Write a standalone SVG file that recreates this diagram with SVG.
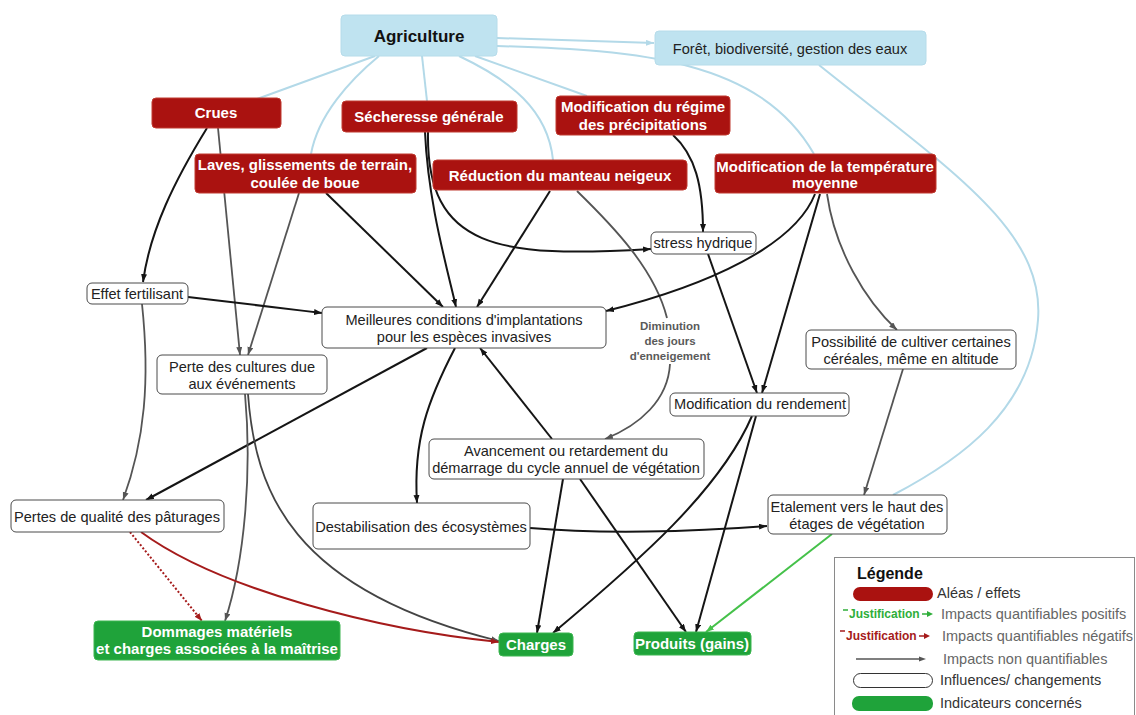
<svg xmlns="http://www.w3.org/2000/svg" width="1136" height="715" viewBox="0 0 1136 715">
  <defs>
    <style>
      text { font-family: "Liberation Sans", Arial, sans-serif; }
      .blue { fill: #bfe3f0; stroke: #b6dcea; stroke-width: 1; }
      .red { fill: #aa1210; stroke: #c03a30; stroke-width: 1; }
      .green { fill: #1fa33a; stroke: #3cb650; stroke-width: 1; }
      .box { fill: #ffffff; stroke: #4a4a4a; stroke-width: 1; }
      .tb { font-size: 15px; font-weight: bold; fill: #ffffff; text-anchor: middle; }
      .tn { font-size: 14.6px; fill: #222222; text-anchor: middle; }
      .lb { fill: none; stroke: #b3d9e8; stroke-width: 2; }
      .k { fill: none; stroke: #151515; stroke-width: 2; marker-end: url(#ak); }
      .g { fill: none; stroke: #555555; stroke-width: 1.8; marker-end: url(#ag); }
      .r { fill: none; stroke: #a51b1b; stroke-width: 2; marker-end: url(#ar); }
      .gr { fill: none; stroke: #45c14a; stroke-width: 2; marker-end: url(#agr); }
      .lt { font-size: 14.5px; fill: #333333; }
      .lt2 { font-size: 14.5px; fill: #666666; }
      .just { font-size: 12px; font-weight: bold; }
    </style>
    <marker id="ak" markerUnits="userSpaceOnUse" markerWidth="9" markerHeight="7" refX="8" refY="3" orient="auto"><path d="M0,0 L8,3 L0,6 z" fill="#151515"/></marker>
    <marker id="ag" markerUnits="userSpaceOnUse" markerWidth="9" markerHeight="7" refX="8" refY="3" orient="auto"><path d="M0,0 L8,3 L0,6 z" fill="#555555"/></marker>
    <marker id="ar" markerUnits="userSpaceOnUse" markerWidth="9" markerHeight="7" refX="8" refY="3" orient="auto"><path d="M0,0 L8,3 L0,6 z" fill="#a51b1b"/></marker>
    <marker id="agr" markerUnits="userSpaceOnUse" markerWidth="9" markerHeight="7" refX="8" refY="3" orient="auto"><path d="M0,0 L8,3 L0,6 z" fill="#45c14a"/></marker>
    <marker id="ab" markerUnits="userSpaceOnUse" markerWidth="9" markerHeight="7" refX="8" refY="3" orient="auto"><path d="M0,0 L8,3 L0,6 z" fill="#b3d9e8"/></marker>
  </defs>

  <rect width="1136" height="715" fill="#ffffff"/>

  <!-- connectors -->
  <g id="connectors">
    <!-- sector links -->
    <path class="lb" d="M375,56 L257,99"/>
    <path class="lb" d="M379,56 C350,80 318,115 311,154"/>
    <path class="lb" d="M422,56 L427,101"/>
    <path class="lb" d="M459,56 C510,80 548,110 553,160"/>
    <path class="lb" d="M475,56 L587,96"/>
    <path class="lb" d="M497,46 C640,50 760,60 814,154"/>
    <path class="lb" d="M497,38 C560,40 610,42 654,43" marker-end="url(#ab)"/>
    <path class="lb" d="M819,65 C950,170 1045,230 1038,320 S960,460 893,495"/>

    <!-- hazards to effects -->
    <path class="k" d="M207,128 C175,180 150,230 143,282"/>
    <path class="g" d="M218,128 L240,355"/>
    <path class="g" d="M299,193 L248,355"/>
    <path class="k" d="M326,193 L443,307"/>
    <path class="k" d="M425,132 C428,200 445,260 456,307"/>
    <path class="k" d="M428,132 C426,250 500,258 651,249"/>
    <path class="k" d="M550,191 L477,307"/>
    <path class="g" d="M577,191 C615,228 655,270 667,318" style="marker-end:none"/>
    <path class="g" d="M670,364 C668,400 640,425 605,439"/>
    <path class="k" d="M673,135 C695,155 703,185 703,232"/>
    <path class="k" d="M815,194 C795,245 710,285 606,311"/>
    <path class="k" d="M820,194 L762,393"/>
    <path class="k" d="M708,254 L757,393"/>
    <path class="g" d="M827,194 C835,250 865,300 897,330"/>

    <!-- effects to effects -->
    <path class="k" d="M188,297 C240,303 280,308 322,313"/>
    <path class="g" d="M142,304 C150,380 145,440 123,500"/>
    <path class="k" d="M427,348 L146,500"/>
    <path class="k" d="M455,348 C428,400 413,440 417,503"/>
    <path class="k" d="M552,439 L480,348"/>
    <path class="k" d="M530,528 C600,534 690,532 767,526"/>
    <path class="g" d="M903,369 L864,495"/>

    <!-- effects to indicators -->
    <path class="g" d="M245,394 C252,470 245,560 225,621"/>
    <path class="g" d="M248,394 C255,490 290,590 499,641" style="stroke:#444444"/>
    <path class="r" d="M130,532 L202,621" stroke-dasharray="2,2"/>
    <path class="r" d="M141,532 C220,590 380,630 499,642"/>
    <path class="k" d="M563,479 L537,633"/>
    <path class="k" d="M580,479 L686,632"/>
    <path class="k" d="M752,416 C720,490 640,560 553,633"/>
    <path class="k" d="M756,416 L696,632"/>
    <path class="gr" d="M832,534 L706,632"/>
  </g>

  <!-- sector nodes -->
  <g id="agriculture">
    <rect class="blue" x="341" y="15" width="156" height="41" rx="4"/>
    <text x="419" y="42" style="font-size:17px;font-weight:bold;fill:#111;text-anchor:middle">Agriculture</text>
  </g>
  <g id="foret">
    <rect class="blue" x="655" y="31" width="271" height="34" rx="4"/>
    <text class="tn" x="790" y="54">Forêt, biodiversité, gestion des eaux</text>
  </g>

  <!-- hazard nodes -->
  <g id="crues">
    <rect class="red" x="152" y="98" width="129" height="30" rx="4"/>
    <text class="tb" x="216" y="118">Crues</text>
  </g>
  <g id="secheresse">
    <rect class="red" x="342" y="101" width="175" height="31" rx="4"/>
    <text class="tb" x="429" y="122">Sécheresse générale</text>
  </g>
  <g id="precipitations">
    <rect class="red" x="556" y="96" width="174" height="39" rx="4"/>
    <text class="tb" x="643" y="112">Modification du régime</text>
    <text class="tb" x="643" y="130">des précipitations</text>
  </g>
  <g id="laves">
    <rect class="red" x="195" y="154" width="221" height="39" rx="4"/>
    <text class="tb" x="305" y="170">Laves, glissements de terrain,</text>
    <text class="tb" x="305" y="188">coulée de boue</text>
  </g>
  <g id="manteau-neigeux">
    <rect class="red" x="433" y="160" width="254" height="30" rx="4"/>
    <text class="tb" x="560" y="181">Réduction du manteau neigeux</text>
  </g>
  <g id="temperature">
    <rect class="red" x="715" y="154" width="221" height="39" rx="4"/>
    <text class="tb" x="825" y="172">Modification de la température</text>
    <text class="tb" x="825" y="188">moyenne</text>
  </g>

  <!-- influence nodes -->
  <g id="stress-hydrique">
    <rect class="box" x="651" y="232" width="105" height="22" rx="5"/>
    <text class="tn" x="703" y="248">stress hydrique</text>
  </g>
  <g id="effet-fertilisant">
    <rect class="box" x="87" y="283" width="101" height="21" rx="5"/>
    <text class="tn" x="137" y="299">Effet fertilisant</text>
  </g>
  <g id="especes-invasives">
    <rect class="box" x="322" y="307" width="284" height="41" rx="5"/>
    <text class="tn" x="464" y="325">Meilleures conditions d'implantations</text>
    <text class="tn" x="464" y="342">pour les espèces invasives</text>
  </g>
  <g id="perte-cultures">
    <rect class="box" x="157" y="355" width="170" height="39" rx="5"/>
    <text class="tn" x="242" y="372">Perte des cultures due</text>
    <text class="tn" x="242" y="389">aux événements</text>
  </g>
  <g id="diminution-enneigement">
    <text x="670" y="330" style="font-size:11.5px;font-weight:bold;fill:#5a5a5a;text-anchor:middle">Diminution</text>
    <text x="670" y="345" style="font-size:11.5px;font-weight:bold;fill:#5a5a5a;text-anchor:middle">des jours</text>
    <text x="670" y="360" style="font-size:11.5px;font-weight:bold;fill:#5a5a5a;text-anchor:middle">d'enneigement</text>
  </g>
  <g id="cereales">
    <rect class="box" x="806" y="330" width="210" height="39" rx="5"/>
    <text class="tn" x="911" y="347">Possibilité de cultiver certaines</text>
    <text class="tn" x="911" y="364">céréales, même en altitude</text>
  </g>
  <g id="rendement">
    <rect class="box" x="670" y="393" width="179" height="23" rx="5"/>
    <text class="tn" x="760" y="409">Modification du rendement</text>
  </g>
  <g id="cycle-vegetation">
    <rect class="box" x="429" y="439" width="275" height="40" rx="5"/>
    <text class="tn" x="566" y="456">Avancement ou retardement du</text>
    <text class="tn" x="566" y="473">démarrage du cycle annuel de végétation</text>
  </g>
  <g id="paturages">
    <rect class="box" x="11" y="500" width="213" height="32" rx="5"/>
    <text class="tn" x="117" y="522">Pertes de qualité des pâturages</text>
  </g>
  <g id="ecosystemes">
    <rect class="box" x="313" y="503" width="217" height="46" rx="5"/>
    <text class="tn" x="421" y="532">Destabilisation des écosystèmes</text>
  </g>
  <g id="etages-vegetation">
    <rect class="box" x="768" y="495" width="179" height="39" rx="5"/>
    <text class="tn" x="857" y="512">Etalement vers le haut des</text>
    <text class="tn" x="857" y="529">étages de végétation</text>
  </g>

  <!-- indicator nodes -->
  <g id="dommages">
    <rect class="green" x="94" y="621" width="246" height="39" rx="4"/>
    <text class="tb" x="217" y="637">Dommages matériels</text>
    <text class="tb" x="217" y="654">et charges associées à la maîtrise</text>
  </g>
  <g id="charges">
    <rect class="green" x="499" y="633" width="74" height="23" rx="4"/>
    <text class="tb" x="536" y="650">Charges</text>
  </g>
  <g id="produits">
    <rect class="green" x="634" y="632" width="117" height="23" rx="4"/>
    <text class="tb" x="692" y="649">Produits (gains)</text>
  </g>

  <!-- legend -->
  <g id="legende">
    <rect x="834.5" y="557.5" width="300" height="170" fill="#ffffff" stroke="#8a8a8a" stroke-width="1"/>
    <text x="857" y="579" style="font-size:16px;font-weight:bold;fill:#111">Légende</text>
    <rect x="853" y="587" width="80" height="14" rx="7" fill="#aa1210"/>
    <text class="lt" x="937" y="598">Aléas / effets</text>
    <line x1="843" y1="610" x2="848" y2="610" stroke="#2fae3a" stroke-width="1.5"/>
    <text class="just" x="849" y="618" fill="#2fae3a">Justification</text>
    <line x1="922" y1="614" x2="928" y2="614" stroke="#2fae3a" stroke-width="1.5"/>
    <path d="M927,611 L933,614 L927,617 z" fill="#2fae3a"/>
    <text class="lt2" x="941" y="619">Impacts quantifiables positifs</text>
    <line x1="840" y1="631" x2="845" y2="631" stroke="#a51b1b" stroke-width="1.5"/>
    <text class="just" x="846" y="640" fill="#a51b1b">Justification</text>
    <line x1="919" y1="636" x2="925" y2="636" stroke="#a51b1b" stroke-width="1.5"/>
    <path d="M924,633 L930,636 L924,639 z" fill="#a51b1b"/>
    <text class="lt2" x="942" y="641">Impacts quantifiables négatifs</text>
    <line x1="856" y1="659" x2="920" y2="659" stroke="#555555" stroke-width="1.5"/>
    <path d="M919,656.5 L926,659 L919,661.5 z" fill="#555555"/>
    <text class="lt2" x="943" y="664">Impacts non quantifiables</text>
    <rect x="853.5" y="673.5" width="79" height="14" rx="7" fill="#ffffff" stroke="#333333" stroke-width="1"/>
    <text class="lt" x="940" y="685">Influences/ changements</text>
    <rect x="852" y="696" width="81" height="15" rx="7" fill="#1fa33a"/>
    <text class="lt" x="940" y="708">Indicateurs concernés</text>
  </g>
</svg>
